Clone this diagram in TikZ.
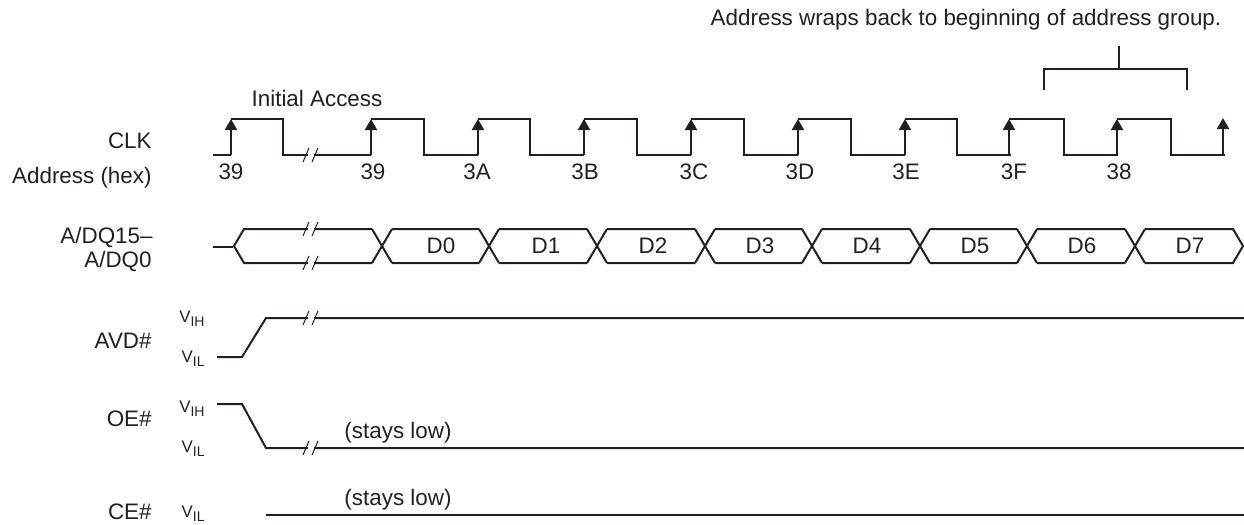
\documentclass[tikz,border=0pt]{standalone}
\usepackage{fontspec}
\setmainfont{Liberation Sans}
\usetikzlibrary{arrows.meta}
\definecolor{ink}{HTML}{231F20}
\newcommand{\vlevel}[1]{{\fontsize{8.4}{9}\selectfont V\raisebox{-2.4pt}{\fontsize{7}{8}\selectfont #1}}}
\tikzset{
  wave/.style={draw=ink,line width=1pt,line join=miter},
  edgearrow/.style={wave,-{Triangle[length=5.5pt,width=6pt]}},
  breakmark/.pic={
    \fill[white] (-3,5) -- (3,5) -- (3,-5) -- (-3,-5) -- cycle;
    \draw[draw=ink,line width=0.5pt] (-8,7) -- (-2,-7) (1,7) -- (7,-7);
  }
}
\begin{document}
\begin{tikzpicture}[x=0.5pt,y=-0.5pt,font=\fontsize{11.2}{12}\selectfont,text=ink]
\useasboundingbox (0,0) rectangle (1244,525);

\begin{scope}[every node/.style={inner sep=0pt,anchor=base}]
    \node[anchor=base east] (clk) at (152,148) {CLK};
    \node[anchor=base east] (address) at (152,183) {Address (hex)};
    \node[anchor=base east] (adq15) at (153,243) {A/DQ15--};
    \node[anchor=base east] (adq0) at (152,267) {A/DQ0};
    \node[anchor=base east] (avd) at (152,348) {AVD\#};
    \node[anchor=base east] (oe) at (152,426) {OE\#};
    \node[anchor=base east] (ce) at (152,519) {CE\#};
    \node[anchor=base east] (avd_h) at (205,322) {\vlevel{IH}};
    \node[anchor=base east] (avd_l) at (205,362) {\vlevel{IL}};
    \node[anchor=base east] (oe_h) at (205,412) {\vlevel{IH}};
    \node[anchor=base east] (oe_l) at (205,452) {\vlevel{IL}};
    \node[anchor=base east] (ce_l) at (205,517) {\vlevel{IL}};
    \node (initial) at (317,106) {Initial Access};
    \node (wraps) at (966,25) {Address wraps back to beginning of address group.};
    \node (oe_low) at (398,438) {(stays low)};
    \node (ce_low) at (398,505) {(stays low)};
    % address values
    \foreach \x/\a in {231/39,373/39,477/3A,585/3B,694/3C,800/3D,906/3E,1014/3F,1119/38}
        \node at (\x,179) {\a};
\end{scope}

% clock
\coordinate (clk_start) at (213,155);
\coordinate (clk_rise) at (231,155);
\coordinate (clk_top) at (231,119);
\coordinate (clk_fall) at (283,119);
\coordinate (clk_low) at (283,155);
\coordinate (clk_next) at (371,155);
\draw[wave] (clk_start) -- (clk_rise) (clk_top) -- (clk_fall) -- (clk_low) -- (clk_next);
\draw[edgearrow] (clk_rise) -- (clk_top);
\foreach \r/\f in {371/424,478/530,584/637,691/744,798/851,905/957,1009/1064,1117/1171}{
    \draw[wave] (\r,119) -- (\f,119) -- (\f,155) -- (\f+54,155);
    \draw[edgearrow] (\r,155) -- (\r,119);
}
\draw[wave] (1171,155) -- (1223,155);
\draw[edgearrow] (1223,155) -- (1223,118);
\pic at (311,155) {breakmark};

% bracket
\coordinate (brk_l) at (1044,90);
\coordinate (brk_r) at (1187,90);
\coordinate (brk_stem) at (1119,46);
\draw[wave] (brk_l) |- (1187,69) -- (brk_r);
\draw[wave] (brk_stem) -- (1119,69);

% data bus
\draw[wave] (213,247) -- (233,247);
\draw[wave] (372,229) -- (244,229) -- (234,246) -- (244,263) -- (372,263);
\foreach \l/\r/\t/\d in {382/489/441/D0,489/597/546/D1,597/705/653/D2,705/812/760/D3,812/920/867/D4,920/1027/975/D5,1027/1135/1082/D6}{
    \draw[wave] (\l+10,229) -- (\r-10,229) (\l+10,263) -- (\r-10,263)
        (\l-10,229) -- (\l+10,263) (\l-10,263) -- (\l+10,229);
    \node[inner sep=0pt,anchor=base] at (\t,253) {\d};
}
\draw[wave] (1135-10,229) -- (1135+10,263) (1135-10,263) -- (1135+10,229);
\draw[wave] (1145,229) -- (1233,229) -- (1243,246) -- (1233,263) -- (1145,263);
\node[inner sep=0pt,anchor=base] (d7) at (1190,253) {D7};
\pic at (311,229) {breakmark};
\pic at (311,263) {breakmark};

% control lines
\draw[wave] (217,357) -- (242,357) -- (266,318) -- (1244,318);
\pic at (311,318) {breakmark};
\draw[wave] (217,404) -- (242,404) -- (266,448) -- (1244,448);
\pic at (311,448) {breakmark};
\draw[wave] (266,515) -- (1244,515);
\end{tikzpicture}
\end{document}
